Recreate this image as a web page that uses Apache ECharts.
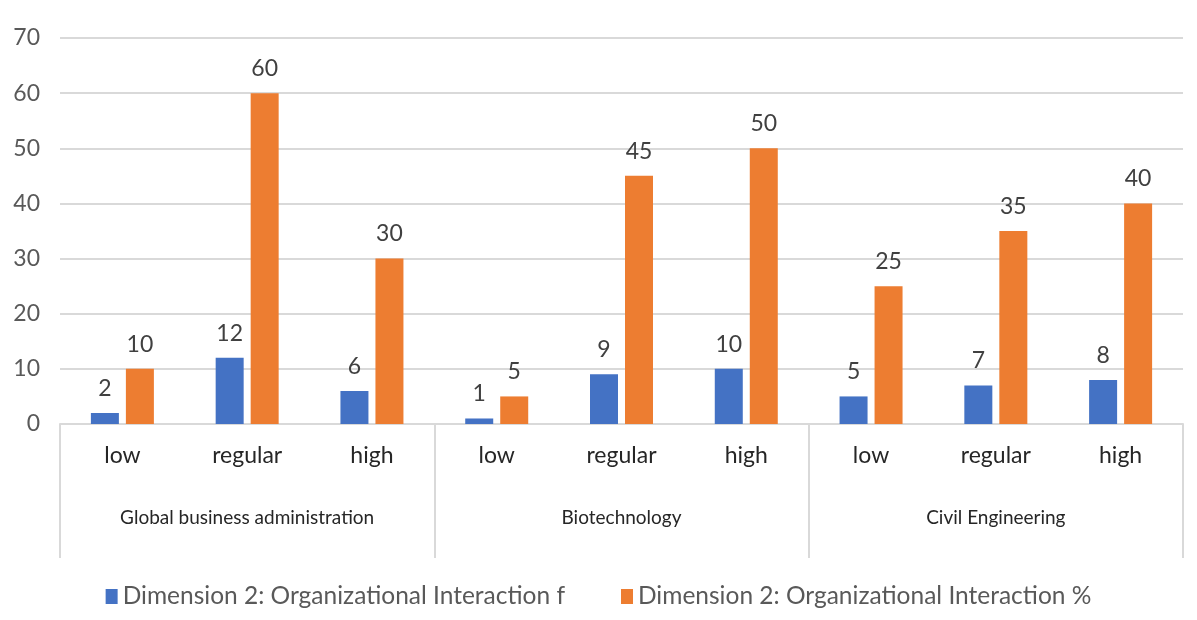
<!DOCTYPE html>
<html>
<head>
<meta charset="utf-8">
<script src="https://cdn.jsdelivr.net/npm/echarts@6/dist/echarts.min.js"></script>
<style>
  html, body { margin: 0; padding: 0; background: #fff; }
  #chart { width: 1197px; height: 620px; }
</style>
</head>
<body>
<div id="chart"></div>
<script>
const levels = ['low', 'regular', 'high', 'low', 'regular', 'high', 'low', 'regular', 'high']
const groups = ['Global business administration', 'Biotechnology', 'Civil Engineering']
const freqValues = [2, 12, 6, 1, 9, 10, 5, 7, 8]
const pctValues = [10, 60, 30, 5, 45, 50, 25, 35, 40]
const seriesNames = ['Dimension 2: Organizational Interaction f', 'Dimension 2: Organizational Interaction %']

const font = 'Lato, "Open Sans", sans-serif'
const chart = echarts.init(document.getElementById('chart'))

const labelStyle = {
  show: true,
  position: 'top',
  distance: 13,
  fontFamily: font,
  fontSize: 23,
  color: '#404040'
}

const option = {
  animation: false,
  grid: { left: 60, right: 14, top: 38, bottom: 196, containLabel: false },
  legend: {
    bottom: 6,
    left: 'center',
    itemWidth: 12,
    itemHeight: 15,
    itemGap: 56,
    icon: 'rect',
    textStyle: { fontFamily: font, fontSize: 24.5, color: '#595959' },
    data: seriesNames
  },
  xAxis: [
    {
      type: 'category',
      data: levels,
      position: 'bottom',
      axisLine: { show: true, lineStyle: { color: '#d9d9d9', width: 2 } },
      axisTick: { show: false },
      axisLabel: { interval: 0, margin: 20, fontFamily: font, fontSize: 23, color: '#262626' }
    },
    {
      type: 'category',
      data: groups,
      position: 'bottom',
      axisLine: { show: false },
      axisTick: { show: true, interval: 0, length: 134, lineStyle: { color: '#d9d9d9', width: 2 } },
      axisLabel: { interval: 0, margin: 84, fontFamily: font, fontSize: 19, color: '#262626' }
    }
  ],
  yAxis: {
    type: 'value',
    min: 0,
    max: 70,
    interval: 10,
    axisLine: { show: false },
    axisTick: { show: false },
    axisLabel: { margin: 20, fontFamily: font, fontSize: 23, color: '#595959' },
    splitLine: { lineStyle: { color: '#d9d9d9', width: 2 } }
  },
  series: [
    {
      name: seriesNames[0],
      type: 'bar',
      xAxisIndex: 0,
      data: freqValues,
      barWidth: 28,
      barGap: '25%',
      itemStyle: { color: '#4472c4' },
      label: labelStyle
    },
    {
      name: seriesNames[1],
      type: 'bar',
      xAxisIndex: 0,
      data: pctValues,
      barWidth: 28,
      barGap: '25%',
      itemStyle: { color: '#ed7d31' },
      label: labelStyle
    }
  ]
}

chart.setOption(option)
</script>
</body>
</html>
